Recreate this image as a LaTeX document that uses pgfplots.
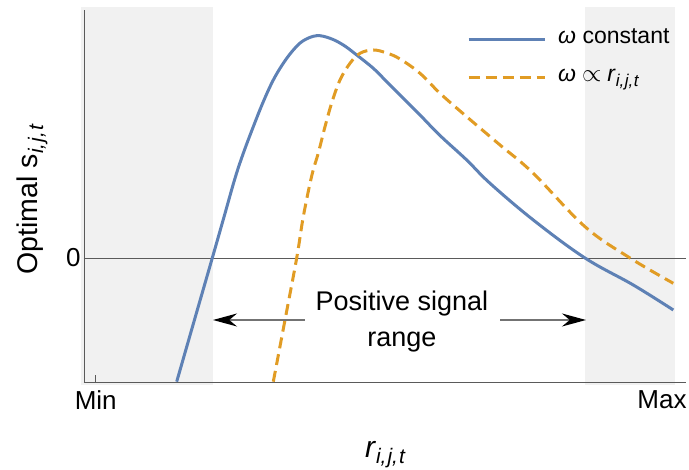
\documentclass[border=0pt]{standalone}
\usepackage{fontspec}
\setmainfont{Liberation Sans}
\usepackage{pgfplots}
\pgfplotsset{compat=1.18}
\usetikzlibrary{arrows.meta}
\definecolor{mblue}{RGB}{94,129,181}
\definecolor{morange}{RGB}{225,156,36}
\definecolor{bggray}{RGB}{241,241,241}
\definecolor{axgray}{RGB}{90,90,90}
\newcommand{\sub}[3]{\raisebox{-#2}{\fontsize{#1}{#1}\selectfont\itshape #3}}
\begin{document}
\begin{tikzpicture}
\begin{axis}[
  at={(0,0)}, anchor=south west,
  scale only axis, width=602pt, height=372pt,
  xmin=84, xmax=686, ymin=-124, ymax=248,
  axis x line*=bottom, axis y line*=left,
  x axis line style={-}, y axis line style={-},
  axis line style={draw=axgray, line width=0.8pt},
  axis on top,
  clip=false,
  xtick={95.7}, xticklabels={Min},
  extra x ticks={662}, extra x tick labels={Max},
  extra x tick style={major tick length=0pt},
  ytick={0}, yticklabels={0},
  major tick length=7pt, tick align=inside,
  tick style={draw=axgray, line width=0.8pt},
  tick label style={font=\fontsize{26}{26}\selectfont},
  xticklabel style={yshift=-5pt},
  xlabel={\textit{r}\sub{21pt}{6pt}{i,\kern1pt j,\kern1pt t}},
  xlabel style={at={(rel axis cs:0.5,0)}, anchor=base, yshift=-76pt, font=\fontsize{30}{30}\selectfont},
  ylabel={Optimal s\sub{21pt}{6pt}{i,\kern1pt j,\kern1pt t}},
  ylabel style={at={(rel axis cs:-0.078,0.49)}, anchor=base, font=\fontsize{28.5}{28.5}\selectfont},
  legend style={draw=none, fill=none, at={(axis cs:467,231)}, anchor=north west,
    font=\fontsize{23}{23}\selectfont, inner sep=0pt, row sep=16pt,
    nodes={inner sep=0pt, text height=16pt, text depth=6pt},
    /tikz/every odd column/.append style={column sep=12pt}},
  legend cell align=left,
  legend image code/.code={\draw[#1] (0pt,-1pt) -- (76pt,-1pt);},
]
\fill[bggray] (axis cs:81,251.3) rectangle (axis cs:212.7,-127);
\fill[bggray] (axis cs:585,251.3) rectangle (axis cs:675,-127);
\draw[axgray, line width=0.8pt] (axis cs:84,0) -- (axis cs:686,0);

\addplot[mblue, line width=3pt, smooth, tension=0.6] coordinates {
(176.7,-123.7) (195,-60) (212.3,0) (224,41) (235,79.7) (243.3,104.7)
(253.3,131.3) (263.3,156.3) (273.3,178) (283.3,194.7) (293.3,208)
(303.3,217.3) (316.7,222.3) (330,219.7) (343.3,213) (356.7,203)
(373.3,189.7) (386.7,176.3) (400,163) (420,143) (440,122.5) (466.7,98)
(490,74.7) (533.3,38) (585,0) (633.3,-27) (673.3,-52)
};
\addlegendentry{\textit{ω} constant}
\addplot[morange, line width=3pt, dash pattern=on 11pt off 6pt, smooth, tension=0.6] coordinates {
(273.3,-123.7) (285,-62) (296.7,0) (303.3,41.3) (311.7,82) (318.3,105)
(325,131.3) (331.7,155) (340,178) (350,194.7) (360,204.7) (373.3,208)
(386.7,205) (400,199) (420,184.7) (440,164.7) (466.7,141.3) (500,113)
(533.3,84.7) (585,31.3) (630,0) (673.3,-25.3)
};
\addlegendentry{\textit{ω}\kern6pt$\propto$\kern6pt\textit{r}\sub{17pt}{5pt}{i,\kern0.5pt j,\kern0.5pt t}}

\draw[draw=black!55, line width=1.3pt, -{Stealth[length=24pt,width=13pt,color=black,fill=black]}] (axis cs:305,-62) -- (axis cs:213,-62);
\draw[draw=black!55, line width=1.3pt, -{Stealth[length=24pt,width=13pt,color=black,fill=black]}] (axis cs:500,-62) -- (axis cs:586,-62);
\node[anchor=base, font=\fontsize{27}{27}\selectfont, inner sep=0pt] at (axis cs:402,-53) {Positive signal};
\node[anchor=base, font=\fontsize{27}{27}\selectfont, inner sep=0pt] at (axis cs:402,-89) {range};
\end{axis}
\pgfresetboundingbox
\path[use as bounding box] (-84pt,-88pt) rectangle (605pt,382pt);
\end{tikzpicture}
\end{document}
